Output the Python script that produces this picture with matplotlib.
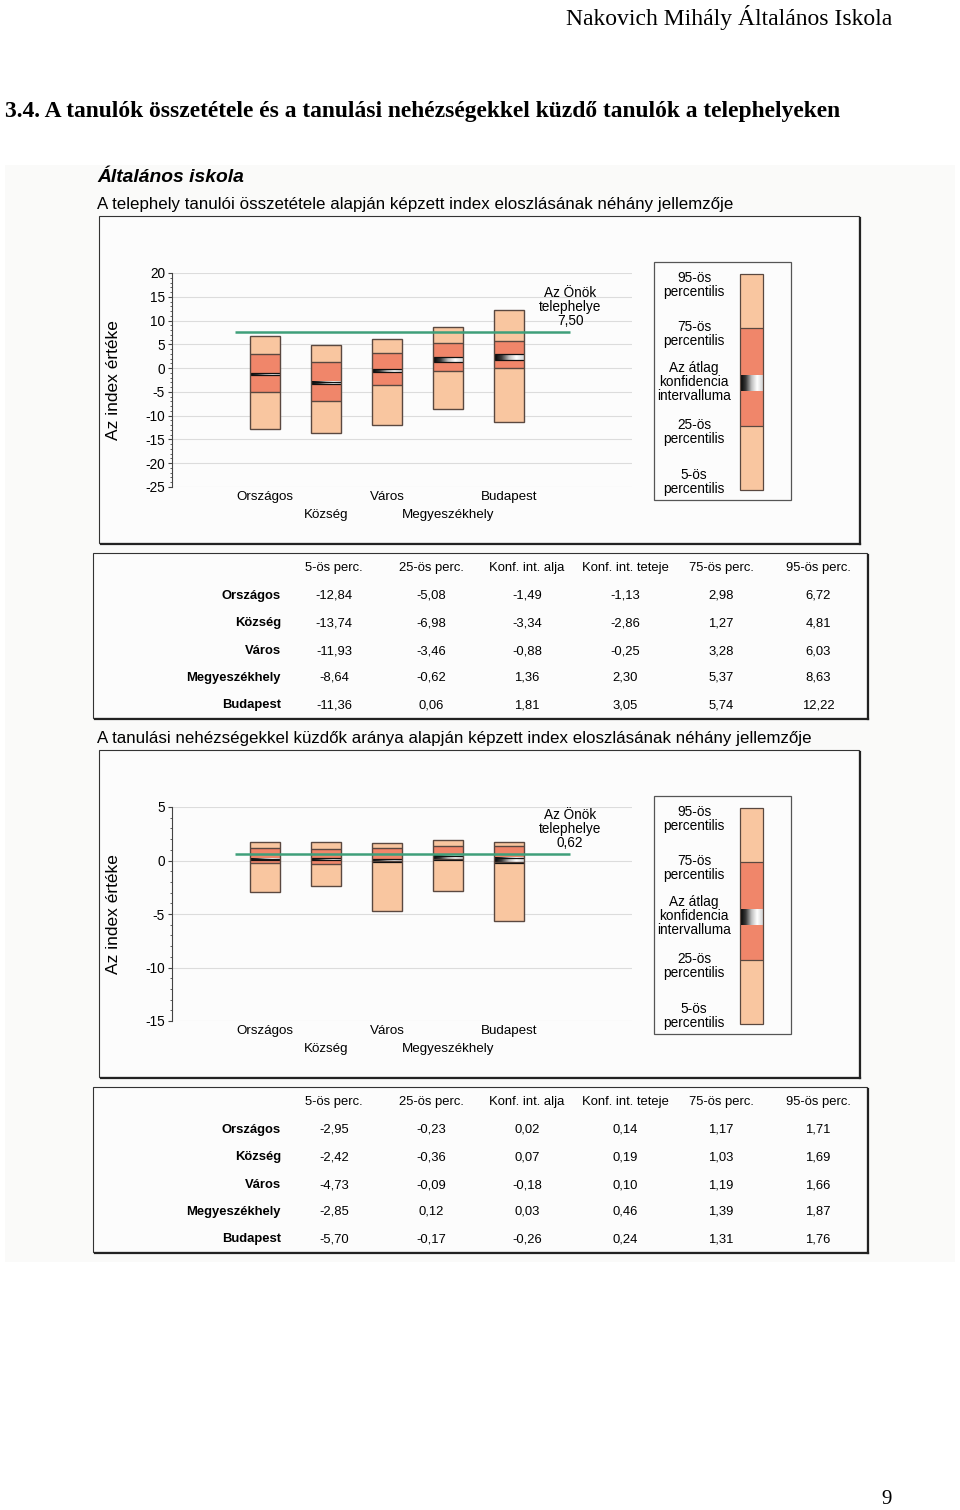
import matplotlib
matplotlib.use('Agg')
import matplotlib.pyplot as plt
import numpy as np
from matplotlib import font_manager
from matplotlib.colors import LinearSegmentedColormap
from matplotlib.patches import Rectangle

W, H = 960, 1510

# --- data -------------------------------------------------------------
categories = ['Országos', 'Község', 'Város', 'Megyeszékhely', 'Budapest']
col_labels = ['5-ös perc.', '25-ös perc.', 'Konf. int. alja',
              'Konf. int. teteje', '75-ös perc.', '95-ös perc.']

# összetétel index
comp_p5 = [-12.84, -13.74, -11.93, -8.64, -11.36]
comp_p25 = [-5.08, -6.98, -3.46, -0.62, 0.06]
comp_ci_lo = [-1.49, -3.34, -0.88, 1.36, 1.81]
comp_ci_hi = [-1.13, -2.86, -0.25, 2.30, 3.05]
comp_p75 = [2.98, 1.27, 3.28, 5.37, 5.74]
comp_p95 = [6.72, 4.81, 6.03, 8.63, 12.22]
comp_site = 7.50

# tanulási nehézségek index
diff_p5 = [-2.95, -2.42, -4.73, -2.85, -5.70]
diff_p25 = [-0.23, -0.36, -0.09, 0.12, -0.17]
diff_ci_lo = [0.02, 0.07, -0.18, 0.03, -0.26]
diff_ci_hi = [0.14, 0.19, 0.10, 0.46, 0.24]
diff_p75 = [1.17, 1.03, 1.19, 1.39, 1.31]
diff_p95 = [1.71, 1.69, 1.66, 1.87, 1.76]
diff_site = 0.62

legend_labels = ['95-ös\npercentilis', '75-ös\npercentilis',
                 'Az átlag\nkonfidencia\nintervalluma',
                 '25-ös\npercentilis', '5-ös\npercentilis']
# schematic legend bar (95, 75, CI top, CI bottom, 25, 5), px from bar top
legend_bar = [0, 54, 101, 117, 152, 216]
legend_text_y = [11, 60, 108, 158, 208]

LIGHT = '#f9c6a0'
DARK = '#f0866a'
EDGE = '#5a4840'
GREEN = '#3f9f7a'

names = {f.name for f in font_manager.fontManager.ttflist}
NARROW = 'Liberation Sans Narrow' if 'Liberation Sans Narrow' in names else 'Liberation Sans'
NS = 1.0 if NARROW == 'Liberation Sans Narrow' else 0.85
plt.rcParams['font.family'] = ['Liberation Sans', 'DejaVu Sans']

ci_cmap = LinearSegmentedColormap.from_list(
    'ci', ['#000000', '#3a3a3a', '#bdbdbd', '#ffffff', '#d5d5d5'])
grad = np.linspace(0, 1, 64).reshape(1, -1)


def fmt(v):
    return f'{v:.2f}'.replace('.', ',')


def pbox(x0, y0, x1, y1):
    return [x0 / W, 1 - y1 / H, (x1 - x0) / W, (y1 - y0) / H]


fig = plt.figure(figsize=(W / 100, H / 100), dpi=100)
bg = fig.add_axes([0, 0, 1, 1])
bg.set_xlim(0, W)
bg.set_ylim(H, 0)
bg.axis('off')

# scanned area tone
bg.add_patch(Rectangle((5, 165), 950, 1097, color='#fafaf9', lw=0, zorder=0))

bg.text(892, 17, 'Nakovich Mihály Általános Iskola', ha='right', va='center',
        fontsize=17, family='Liberation Serif')
bg.text(5, 112, '3.4. A tanulók összetétele és a tanulási nehézségekkel küzdő '
        'tanulók a telephelyeken', ha='left', va='center', fontsize=16.9,
        family='Liberation Serif', weight='bold')
bg.text(887, 1500, '9', ha='center', va='center', fontsize=15,
        family='Liberation Serif')

bg.text(97, 178, 'Általános iskola', ha='left', va='center', fontsize=13.9,
        weight='bold', style='italic')
bg.text(97, 204, 'A telephely tanulói összetétele alapján képzett index '
        'eloszlásának néhány jellemzője', ha='left', va='center', fontsize=12.2)
bg.text(97, 738, 'A tanulási nehézségekkel küzdők aránya alapján képzett index '
        'eloszlásának néhány jellemzője', ha='left', va='center', fontsize=12.2)


def frame(x0, y0, x1, y1):
    bg.add_patch(Rectangle((x0, y0), x1 - x0, y1 - y0, fc='#fcfcfc',
                           ec='#333333', lw=0.8, zorder=1))
    bg.plot([x0 + 2, x1 + 1], [y1 + 1, y1 + 1], color='#222222', lw=1.6, zorder=2)
    bg.plot([x1 + 1, x1 + 1], [y0 + 2, y1 + 1], color='#222222', lw=1.6, zorder=2)


def draw_chart(dy, p5, p25, lo, hi, p75, p95, site, ymin, ymax, step, minor):
    frame(99, 216 + dy, 859, 543 + dy)
    ax = fig.add_axes(pbox(172, 273 + dy, 632, 487 + dy))
    ax.patch.set_alpha(0)
    w = 0.49
    for i in range(len(categories)):
        ax.bar(i, p95[i] - p5[i], bottom=p5[i], width=w, color=LIGHT,
               edgecolor='none', zorder=2)
        ax.bar(i, p75[i] - p25[i], bottom=p25[i], width=w, color=DARK,
               edgecolor='none', zorder=3)
        ax.imshow(grad, extent=(i - w / 2, i + w / 2, lo[i], hi[i]),
                  aspect='auto', cmap=ci_cmap, zorder=4, interpolation='bilinear')
        ax.hlines([p25[i], p75[i]], i - w / 2, i + w / 2, colors=EDGE,
                  lw=1.0, zorder=5)
        ax.hlines([lo[i], hi[i]], i - w / 2, i + w / 2, colors='#111111',
                  lw=0.9, zorder=5)
        ax.bar(i, p95[i] - p5[i], bottom=p5[i], width=w, fill=False,
               edgecolor=EDGE, lw=1.0, zorder=6)
    ax.hlines(site, -0.5, 5.0, colors=GREEN, lw=1.8, zorder=7)
    ax.annotate('Az Önök\ntelephelye\n' + fmt(site), xy=(5.0, site),
                xytext=(0, 3), textcoords='offset points', ha='center',
                va='bottom', fontsize=11.5 * NS, family=NARROW, linespacing=1.0)
    ax.set_xlim(-1.525, 6.016)
    ax.set_ylim(ymin, ymax)
    ax.set_yticks(np.arange(ymin, ymax + 0.1, step))
    ax.set_yticks(np.arange(ymin, ymax + 0.1, minor), minor=True)
    ax.set_yticklabels([str(int(t)) for t in np.arange(ymin, ymax + 0.1, step)],
                       fontsize=11.5 * NS, family=NARROW)
    ax.yaxis.grid(True, color='#dcdcdc', lw=0.8, zorder=0)
    ax.set_axisbelow(True)
    ax.tick_params(axis='y', which='major', length=3, width=0.8, pad=2,
                   color='#444444')
    ax.tick_params(axis='y', which='minor', length=1.5, width=0.6,
                   color='#444444')
    # category labels on two staggered rows
    idx = np.arange(len(categories))
    ax.set_xticks(idx[0::2], [categories[i] for i in idx[0::2]],
                  fontsize=11.3 * NS, family=NARROW)
    ax.set_xticks(idx[1::2], [categories[i] for i in idx[1::2]], minor=True,
                  fontsize=11.3 * NS, family=NARROW)
    ax.tick_params(axis='x', which='major', length=0, pad=3)
    ax.tick_params(axis='x', which='minor', length=0, pad=16)
    for s in ['top', 'right', 'bottom']:
        ax.spines[s].set_visible(False)
    ax.spines['left'].set_color('#444444')
    ax.spines['left'].set_linewidth(0.8)
    ax.set_ylabel('Az index értéke', fontsize=12.5)
    ax.yaxis.set_label_coords(-0.111, 0.5)

    # legend
    bg.add_patch(Rectangle((654, 262 + dy), 137, 238, fill=False,
                           ec='#555555', lw=0.9, zorder=3))
    top = 274 + dy
    b = [top + v for v in legend_bar]
    bg.add_patch(Rectangle((740, b[0]), 23, b[5] - b[0], fc=LIGHT, ec='none', zorder=4))
    bg.add_patch(Rectangle((740, b[1]), 23, b[4] - b[1], fc=DARK, ec='none', zorder=5))
    bg.imshow(grad, extent=(740, 763, b[3], b[2]), aspect='auto', cmap=ci_cmap,
              zorder=6, interpolation='bilinear')
    bg.hlines([b[1], b[4]], 740, 763, colors=EDGE, lw=0.9, zorder=7)
    bg.add_patch(Rectangle((740, b[0]), 23, b[5] - b[0], fill=False, ec=EDGE,
                           lw=0.9, zorder=8))
    for lab, ty in zip(legend_labels, legend_text_y):
        bg.text(694, top + ty, lab, ha='center', va='center', fontsize=11.5 * NS,
                family=NARROW, linespacing=1.0, zorder=9)


def draw_table(dy, cols):
    frame(93, 553 + dy, 867, 718 + dy)
    col_x = [334, 431, 527, 625, 721, 818]
    row_y = [596, 623, 651, 678, 705]
    for x, lab in zip(col_x, col_labels):
        bg.text(x, 568 + dy, lab, ha='center', va='center', fontsize=11 * NS,
                family=NARROW, zorder=9)
    for r, cat in enumerate(categories):
        bg.text(281, row_y[r] + dy, cat, ha='right', va='center',
                fontsize=11 * NS, family=NARROW, weight='bold', zorder=9)
        for x, col in zip(col_x, cols):
            bg.text(x, row_y[r] + dy, fmt(col[r]), ha='center', va='center',
                    fontsize=11 * NS, family=NARROW, zorder=9)


draw_chart(0, comp_p5, comp_p25, comp_ci_lo, comp_ci_hi, comp_p75, comp_p95,
           comp_site, -25, 20, 5, 1)
draw_table(0, [comp_p5, comp_p25, comp_ci_lo, comp_ci_hi, comp_p75, comp_p95])
draw_chart(534, diff_p5, diff_p25, diff_ci_lo, diff_ci_hi, diff_p75, diff_p95,
           diff_site, -15, 5, 5, 1)
draw_table(534, [diff_p5, diff_p25, diff_ci_lo, diff_ci_hi, diff_p75, diff_p95])

bg.set_xlim(0, W)
bg.set_ylim(H, 0)

fig.savefig('out.png', dpi=100)
